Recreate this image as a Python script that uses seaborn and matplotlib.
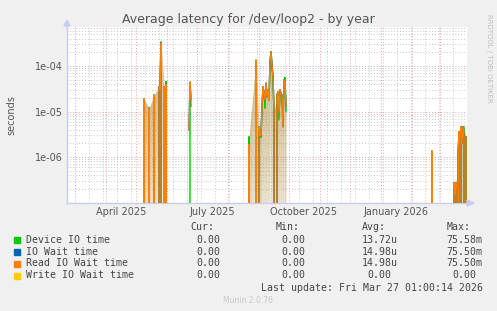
import numpy as np
import pandas as pd
import matplotlib
matplotlib.use("Agg")
import matplotlib.pyplot as plt
import matplotlib.dates as mdates
from matplotlib.patches import Rectangle, Polygon
import seaborn as sns

sns.set_style("white")
plt.rcParams['font.family'] = ['DejaVu Sans']

# ---------------- data (daily values, seconds) ----------------
seg1_start = "2025-05-08"
seg1_device = [0, 1.8e-5, 0, 0, 0, 0, 1.2e-5, 0, 0, 0, 0, 2.3e-5, 0, 0, 0, 0, 3.5e-5, 3.0e-5, 3.4e-4, 0, 0, 3.5e-5, 0, 4.6e-5, 0]
seg1_read   = [0, 1.9e-5, 0, 0, 0, 0, 1.2e-5, 0, 0, 0, 0, 2.3e-5, 0, 0, 0, 0, 3.5e-5, 3.0e-5, 3.2e-4, 0, 0, 3.5e-5, 0, 4.0e-5, 0]

seg2_start = "2025-06-23"
seg2_device = [0, 4.4e-5, 1.3e-5]
seg2_read   = [3.9e-6, 4.4e-5, 1.8e-5]

seg3_start = "2025-08-21"
seg3_device = [0, 2.8e-6, 0, 0, 0, 0, 0, 0, 1.3e-4, 0, 0,
               4.6e-6, 3.0e-6, 2.7e-6, 1.27e-5, 3.5e-5, 2.5e-5, 1.17e-5, 4.2e-5, 2.1e-5, 3.0e-5,
               1.8e-5, 1.2e-4, 2.06e-4, 1.1e-4, 5.8e-5, 1.0e-5, 0, 0, 2.3e-5, 2.7e-5,
               6.5e-6, 3.0e-5, 2.5e-5, 2.3e-5, 7.0e-6, 4.9e-5, 5.6e-5, 1.0e-5]
seg3_read   = [0, 1.9e-6, 0, 0, 0, 0, 0, 0, 1.35e-4, 0, 0,
               4.6e-6, 3.0e-6, 3.0e-6, 1.27e-5, 3.5e-5, 2.5e-5, 1.8e-5, 4.2e-5, 2.1e-5, 3.0e-5,
               1.8e-5, 1.2e-4, 2.06e-4, 9.7e-5, 5.8e-5, 1.0e-5, 0, 0, 2.3e-5, 2.7e-5,
               9.1e-6, 3.0e-5, 2.5e-5, 2.3e-5, 4.6e-6, 4.9e-5, 4.6e-5, 1.3e-5]

seg4_start = "2026-02-20"
seg4_device = [0, 1.35e-6, 0]
seg4_read   = [0, 1.35e-6, 0]

seg5_start = "2026-03-13"
seg5_device = [0, 0, 2.7e-7, 1.5e-7, 2.7e-7, 0, 1.0e-6, 3.6e-6, 0, 4.6e-6, 2.0e-6, 4.6e-6, 4.6e-6, 0, 2.8e-6]
seg5_read   = [0, 0, 2.7e-7, 1.5e-7, 2.7e-7, 0, 1.0e-6, 3.6e-6, 0, 4.6e-6, 2.0e-6, 4.6e-6, 2.8e-6, 0, 2.8e-6]

series_names = ["Device IO time", "IO Wait time", "Read IO Wait time", "Write IO Wait time"]
series_colors = ["#00CC00", "#0066B3", "#FF8000", "#FFCC00"]

legend_cur = ["0.00", "0.00", "0.00", "0.00"]
legend_min = ["0.00", "0.00", "0.00", "0.00"]
legend_avg = ["13.72u", "14.98u", "14.98u", "0.00"]
legend_max = ["75.58m", "75.50m", "75.50m", "0.00"]

x_start = "2025-02-21"
x_end = "2026-03-28"
xtick_dates = ["2025-04-16", "2025-07-16", "2025-10-16", "2026-01-16"]
xtick_labels = ["April 2025", "July 2025", "October 2025", "January 2026"]

# ---------------- build long table ----------------
segments = [
    (seg1_start, seg1_device, seg1_read),
    (seg2_start, seg2_device, seg2_read),
    (seg3_start, seg3_device, seg3_read),
    (seg4_start, seg4_device, seg4_read),
    (seg5_start, seg5_device, seg5_read),
]
rows = []
for si, (start, dev, rd) in enumerate(segments):
    dates = pd.date_range(start, periods=len(dev), freq="D")
    for d, vd, vr in zip(dates, dev, rd):
        rows.append((d, series_names[0], vd, si))
        rows.append((d, series_names[1], vr, si))
        rows.append((d, series_names[2], vr, si))
df = pd.DataFrame(rows, columns=["date", "series", "value", "segment"])

# ---------------- figure ----------------
W, H = 497, 311
fig = plt.figure(figsize=(W / 100, H / 100), dpi=100, facecolor="#F0F0F0")
ax = fig.add_axes([67 / W, 1 - 203 / H, 400 / W, 176 / H])
ax.set_facecolor("white")

x0, x1 = pd.Timestamp(x_start), pd.Timestamp(x_end)
ymin, ymax = 9.75e-8, 7.2e-4

# grid lines
for d in pd.date_range("2025-03-15", x_end, freq="14D"):
    ax.axvline(d, color="#C8C8C8", lw=0.7, ls=(0, (1, 2)), zorder=0.5)
for d in pd.date_range("2025-03-01", x_end, freq="MS"):
    ax.axvline(d, color="#E8A0A0", lw=0.7, ls=(0, (1, 2)), zorder=0.6)

palette = dict(zip(series_names, series_colors))
sns.lineplot(data=df, x="date", y="value", hue="series", units="segment",
             estimator=None, sort=False, palette=palette, hue_order=series_names[:3],
             linewidth=1.0, legend=False, ax=ax, zorder=3)

ax.set_yscale("log", nonpositive="clip")

for e in range(-7, -3):
    for m in range(2, 10):
        v = m * 10.0 ** e
        if ymin < v < ymax:
            ax.axhline(v, color="#C8C8C8", lw=0.7, ls=(0, (1, 2)), zorder=0.5)
for e in range(-6, -3):
    ax.axhline(10.0 ** e, color="#E8A0A0", lw=0.7, ls=(0, (1, 2)), zorder=0.6)

# soft shading between the dense spikes (rrdtool anti-aliasing look)
n_bands = 12
band_step = 0.3  # decades per band
for si, (start, dev, rd) in enumerate(segments):
    dates = pd.date_range(start, periods=len(rd), freq="D")
    vals = np.maximum(np.array(rd, float), np.array(dev, float))
    nz = np.nonzero(vals > 0)[0]
    if len(nz) < 2 or nz[-1] - nz[0] < 3:
        continue
    dn = mdates.date2num(dates)
    xs = np.linspace(dn[nz[0]], dn[nz[-1]], 200)
    env = 10 ** np.interp(xs, dn[nz], np.log10(vals[nz]))
    for k in range(n_bands):
        hi = env * 10 ** (-k * band_step)
        lo = env * 10 ** (-(k + 1) * band_step)
        if k == n_bands - 1:
            lo = np.full_like(env, ymin)
        a = 0.5 * (1 - k / n_bands) + 0.08
        ax.fill_between(xs, np.maximum(lo, ymin), np.maximum(hi, ymin),
                        color="#B09048", alpha=a, lw=0, zorder=2)

ax.set_ylim(ymin, ymax)
ax.set_xlim(mdates.date2num(x0), mdates.date2num(x1))

ax.set_yticks([1e-6, 1e-5, 1e-4])
ax.set_yticklabels(["1e-06", "1e-05", "1e-04"])
ax.yaxis.set_minor_locator(matplotlib.ticker.NullLocator())
ax.set_xticks(mdates.date2num(pd.to_datetime(xtick_dates)))
ax.set_xticklabels(xtick_labels)
ax.tick_params(axis="both", length=0, labelsize=7, labelcolor="#555555", pad=3)
ax.set_xlabel("")
ax.set_ylabel("")

for s in ["top", "right"]:
    ax.spines[s].set_visible(False)
for s in ["left", "bottom"]:
    ax.spines[s].set_color("#C8CCF0")
    ax.spines[s].set_linewidth(1.0)

# axis arrows
fig.patches.append(Polygon(
    [[64 / W, 1 - 26 / H], [70 / W, 1 - 26 / H], [67 / W, 1 - 20 / H]],
    closed=True, transform=fig.transFigure, color="#C8CCF0", figure=fig))
fig.patches.append(Polygon(
    [[467 / W, 1 - 200 / H], [467 / W, 1 - 206 / H], [474 / W, 1 - 203 / H]],
    closed=True, transform=fig.transFigure, color="#C8CCF0", figure=fig))

# titles
fig.text(248 / W, 1 - 19 / H, "Average latency for /dev/loop2 - by year",
         ha="center", va="center", fontsize=9, color="#555555")
fig.text(11 / W, 1 - 115 / H, "seconds", rotation=90, ha="center", va="center",
         fontsize=7, color="#555555")
fig.text(489 / W, 1 - 58 / H, "RRDTOOL / TOBI OETIKER", rotation=270, ha="center",
         va="center", fontsize=5, color="#C0C0C0")

# legend
mono = dict(family="DejaVu Sans Mono", fontsize=7.1, color="#444444", va="center")
fig.text(190 / W, 1 - 227.5 / H, "Cur:", **mono)
fig.text(275.7 / W, 1 - 227.5 / H, "Min:", **mono)
fig.text(361.7 / W, 1 - 227.5 / H, "Avg:", **mono)
fig.text(446.7 / W, 1 - 227.5 / H, "Max:", **mono)
row_y = [240, 252, 263.5, 275.5]
cw = 5.95
for i, name in enumerate(series_names):
    y = row_y[i]
    fig.patches.append(Rectangle((14 / W, 1 - (y + 3) / H), 6 / W, 6 / H,
                                 transform=fig.transFigure, color=series_colors[i], figure=fig))
    fig.text(26 / W, 1 - y / H, name, **mono)
    fig.text((219.8 - cw * len(legend_cur[i])) / W, 1 - y / H, legend_cur[i], **mono)
    fig.text((305.5 - cw * len(legend_min[i])) / W, 1 - y / H, legend_min[i], **mono)
    avg_right = 397.4 if legend_avg[i][-1].isalpha() else 391.4
    fig.text((avg_right - cw * len(legend_avg[i])) / W, 1 - y / H, legend_avg[i], **mono)
    max_right = 482.4 if legend_max[i][-1].isalpha() else 476.4
    fig.text((max_right - cw * len(legend_max[i])) / W, 1 - y / H, legend_max[i], **mono)
fig.text(483 / W, 1 - 288 / H, "Last update: Fri Mar 27 01:00:14 2026", ha="right", **mono)
fig.text(248 / W, 1 - 300.5 / H, "Munin 2.0.76", ha="center", va="center",
         fontsize=5.5, color="#C8C8C8")

fig.savefig("out.png", dpi=100, facecolor=fig.get_facecolor())
